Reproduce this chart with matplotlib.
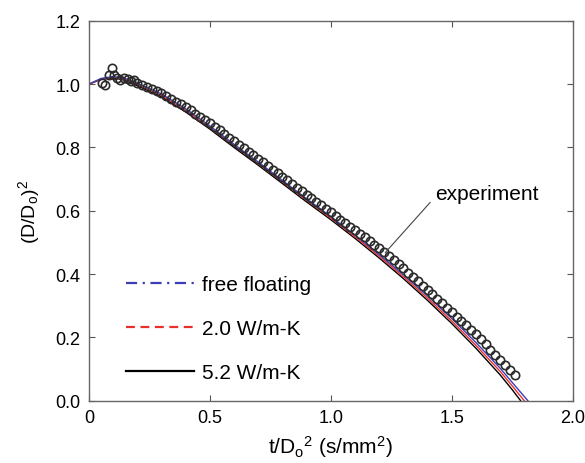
import matplotlib
matplotlib.use("Agg")
import matplotlib.pyplot as plt
from matplotlib.lines import Line2D

plt.rcParams["font.family"] = ["Liberation Sans", "DejaVu Sans"]
plt.rcParams["mathtext.default"] = "regular"

# experiment, scattered start
t_exp_start = [0.055, 0.068, 0.085, 0.097, 0.103, 0.118, 0.130, 0.145, 0.160, 0.172, 0.185]
v_exp_start = [1.005, 0.998, 1.030, 1.052, 1.030, 1.020, 1.012, 1.018, 1.015, 1.010, 1.012]

# experiment, regular part
t_exp = [0.20, 0.22, 0.24, 0.26, 0.28, 0.30, 0.32, 0.34, 0.36, 0.38,
         0.40, 0.42, 0.44, 0.46, 0.48, 0.50, 0.52, 0.54, 0.56, 0.58,
         0.60, 0.62, 0.64, 0.66, 0.68, 0.70, 0.72, 0.74, 0.76, 0.78,
         0.80, 0.82, 0.84, 0.86, 0.88, 0.90, 0.92, 0.94, 0.96, 0.98,
         1.00, 1.02, 1.04, 1.06, 1.08, 1.10, 1.12, 1.14, 1.16, 1.18,
         1.20, 1.22, 1.24, 1.26, 1.28, 1.30, 1.32, 1.34, 1.36, 1.38,
         1.40, 1.42, 1.44, 1.46, 1.48, 1.50, 1.52, 1.54, 1.56, 1.58,
         1.60, 1.62, 1.64, 1.66, 1.68, 1.70, 1.72, 1.74, 1.76]
v_exp = [1.005, 0.998, 0.992, 0.985, 0.979, 0.972, 0.963, 0.954, 0.945, 0.936,
         0.927, 0.917, 0.907, 0.896, 0.886, 0.876, 0.865, 0.854, 0.842, 0.831,
         0.820, 0.809, 0.798, 0.786, 0.775, 0.764, 0.753, 0.741, 0.730, 0.718,
         0.707, 0.696, 0.684, 0.673, 0.661, 0.650, 0.639, 0.628, 0.617, 0.606,
         0.595, 0.584, 0.572, 0.561, 0.549, 0.538, 0.527, 0.516, 0.504, 0.493,
         0.482, 0.469, 0.456, 0.444, 0.431, 0.418, 0.404, 0.391, 0.377, 0.364,
         0.350, 0.336, 0.322, 0.308, 0.294, 0.280, 0.266, 0.252, 0.238, 0.224,
         0.210, 0.194, 0.178, 0.162, 0.146, 0.130, 0.113, 0.097, 0.080]

# model curves
t_free = [0, 0.05, 0.1, 0.15, 0.2, 0.3, 0.4, 0.5, 0.6, 0.7, 0.8, 0.9, 1.0,
          1.1, 1.2, 1.3, 1.4, 1.5, 1.6, 1.7, 1.75, 1.815]
v_free = [1.000, 1.018, 1.024, 1.018, 1.003, 0.969, 0.922, 0.868, 0.810, 0.754,
          0.696, 0.638, 0.582, 0.523, 0.462, 0.398, 0.331, 0.260, 0.184, 0.103,
          0.058, 0.0]
t_k20 = [0, 0.05, 0.1, 0.15, 0.2, 0.3, 0.4, 0.5, 0.6, 0.7, 0.8, 0.9, 1.0,
         1.1, 1.2, 1.3, 1.4, 1.5, 1.6, 1.7, 1.75, 1.80]
v_k20 = [1.000, 1.016, 1.022, 1.015, 0.999, 0.964, 0.917, 0.863, 0.805, 0.749,
         0.691, 0.633, 0.577, 0.518, 0.457, 0.392, 0.324, 0.252, 0.175, 0.093,
         0.047, 0.0]
t_k52 = [0, 0.05, 0.1, 0.15, 0.2, 0.3, 0.4, 0.5, 0.6, 0.7, 0.8, 0.9, 1.0,
         1.1, 1.2, 1.3, 1.4, 1.5, 1.6, 1.7, 1.75, 1.785]
v_k52 = [1.000, 1.015, 1.020, 1.012, 0.995, 0.960, 0.912, 0.858, 0.800, 0.744,
         0.686, 0.628, 0.572, 0.513, 0.451, 0.386, 0.317, 0.244, 0.166, 0.082,
         0.035, 0.0]

fig = plt.figure(figsize=(5.85, 4.64), dpi=100)
ax = fig.add_axes([0.152, 0.134, 0.827, 0.819])

ax.plot(t_k52, v_k52, color="black", lw=1.0)
ax.plot(t_k20, v_k20, color="#e8302a", lw=1.0)
ax.plot(t_free, v_free, color="#3a3fb8", lw=1.0)

ax.plot(t_exp_start + t_exp, v_exp_start + v_exp, "o", mfc="none", mec="#2a2a2a",
        ms=6.0, mew=1.2, clip_on=False)

ax.set_xlim(0, 2.0)
ax.set_ylim(0, 1.2)
ax.set_xticks([0, 0.5, 1.0, 1.5, 2.0])
ax.set_xticklabels(["0", "0.5", "1.0", "1.5", "2.0"])
ax.set_yticks([0, 0.2, 0.4, 0.6, 0.8, 1.0, 1.2])
ax.set_yticklabels(["0.0", "0.2", "0.4", "0.6", "0.8", "1.0", "1.2"])
ax.tick_params(direction="in", top=True, right=True, labelsize=13, length=4,
               color="#555555", pad=6)
for s in ax.spines.values():
    s.set_color("#666666")
    s.set_linewidth(1.0)

ax.set_xlabel("t/D$_o$$^2$ (s/mm$^2$)", fontsize=15, labelpad=5)
ax.set_ylabel("(D/D$_o$)$^2$", fontsize=14, labelpad=10)

handles = [
    Line2D([], [], color="#3a3fb8", lw=1.6, linestyle=(0, (5, 2.5, 1, 2.5))),
    Line2D([], [], color="#e8302a", lw=1.6, linestyle=(0, (4, 2.5))),
    Line2D([], [], color="black", lw=1.6),
]
ax.legend(handles, ["free floating", "2.0 W/m-K", "5.2 W/m-K"], frameon=False,
          loc="lower left", bbox_to_anchor=(0.037, 0.0), fontsize=15,
          handlelength=3.3, labelspacing=1.2, handletextpad=0.35)

ax.annotate("experiment", xy=(1.225, 0.468), xytext=(1.43, 0.655),
            fontsize=15, ha="left", va="center",
            arrowprops=dict(arrowstyle="-", color="#444444", lw=0.8,
                            shrinkA=2, shrinkB=0, relpos=(0, 0.3)))

plt.savefig("out.png", dpi=100)
